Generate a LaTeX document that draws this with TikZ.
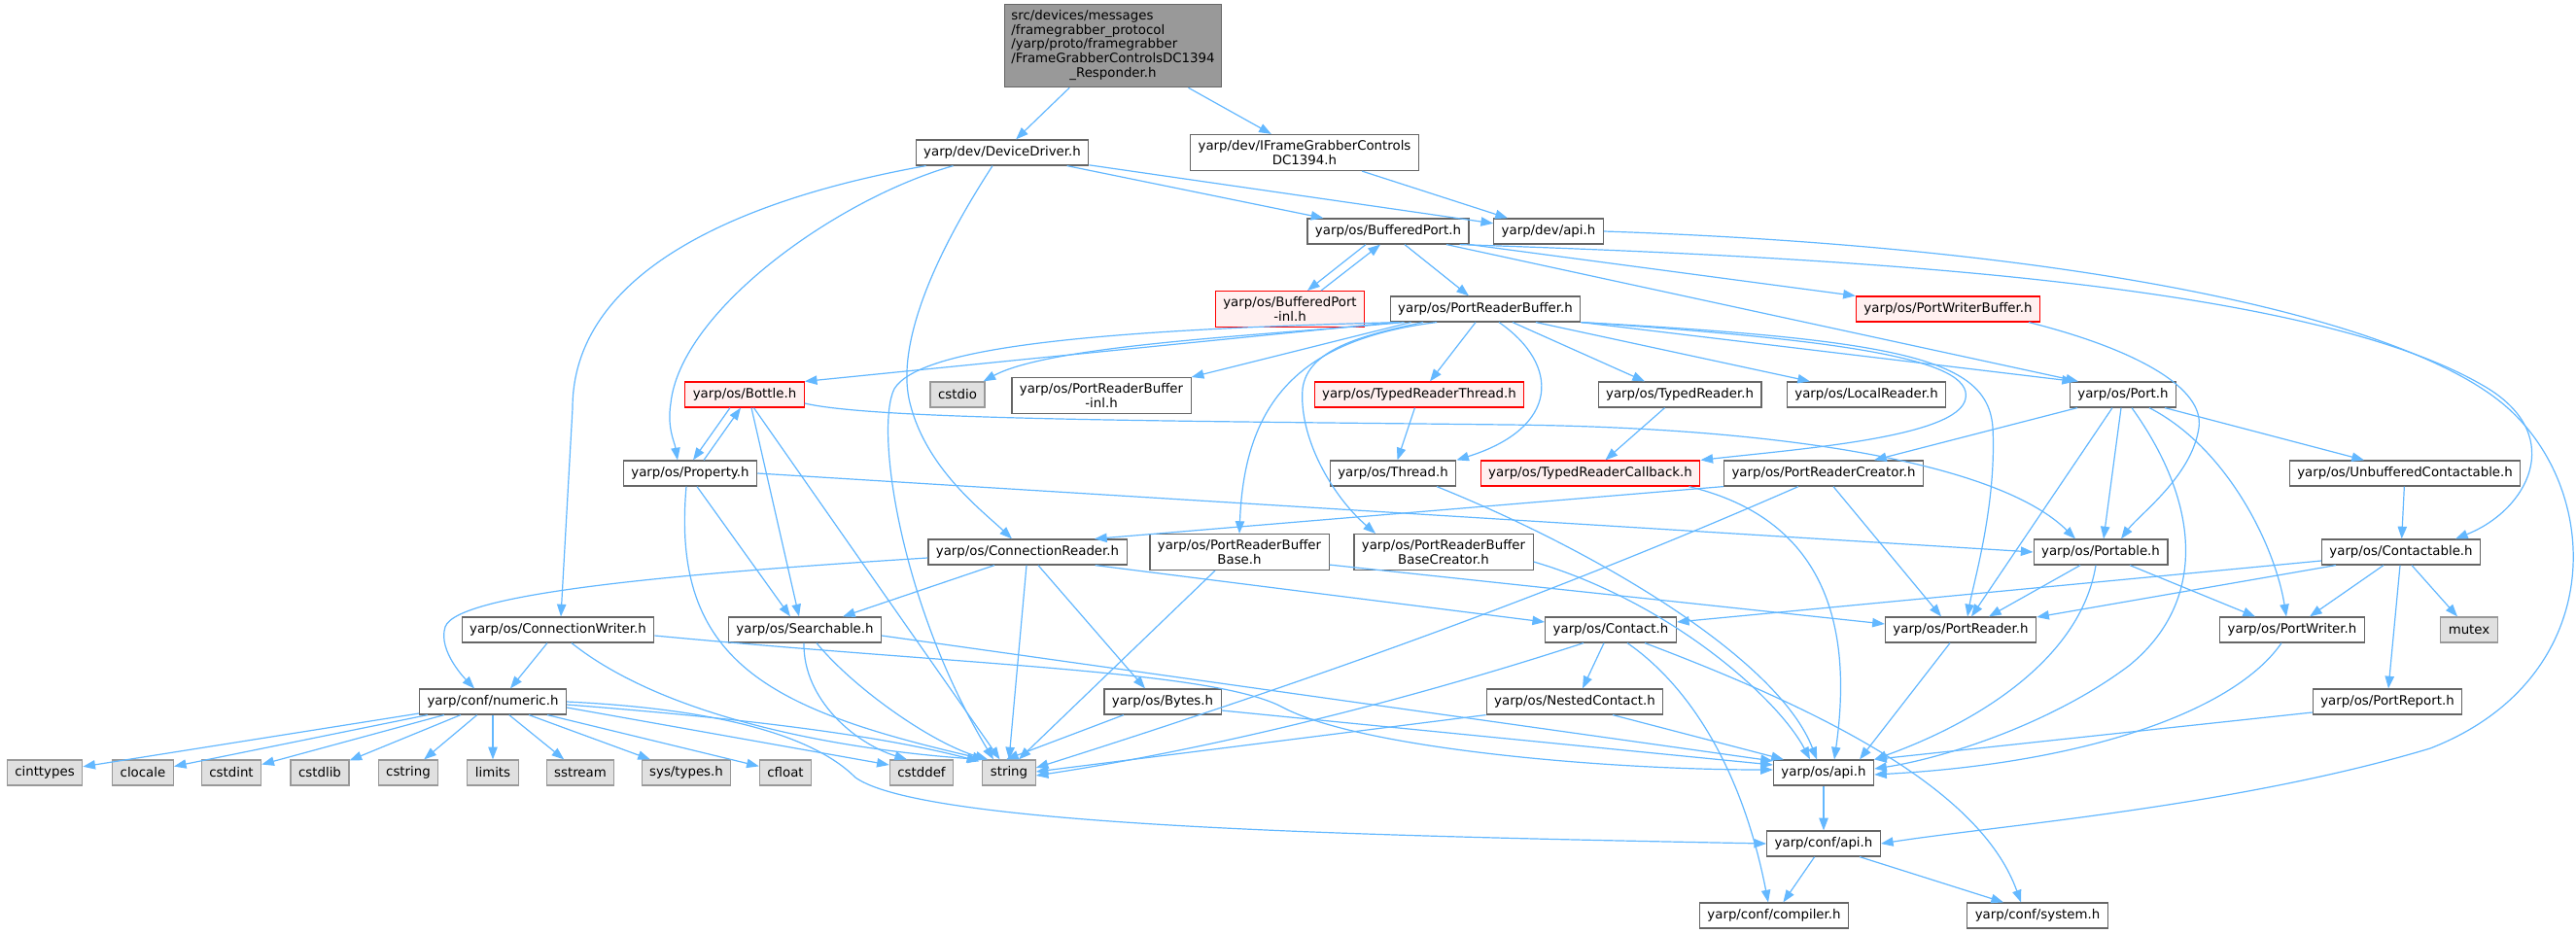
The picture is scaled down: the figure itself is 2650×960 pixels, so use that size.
\documentclass[tikz,border=0pt]{standalone}
\usepackage{fontspec}
\setmainfont{DejaVu Sans}
\usepackage{xcolor}
\usepackage{tikz}
\usetikzlibrary{arrows.meta}
\usetikzlibrary{calc}
\definecolor{edgecolor}{HTML}{63B8FF}
\definecolor{boxborder}{HTML}{666666}
\definecolor{sysfill}{HTML}{E0E0E0}
\definecolor{sysborder}{HTML}{999999}
\definecolor{redborder}{HTML}{FF0000}
\definecolor{redfill}{HTML}{FFF0F0}
\definecolor{mainfill}{HTML}{999999}

\begin{document}
\begin{tikzpicture}[x=0.75pt, y=-0.75pt,
  hdr/.style={draw=boxborder, fill=white, line width=0.9pt, inner xsep=6pt, inner ysep=4.5pt,
    minimum height=19.5pt, font=\fontsize{10pt}{11pt}\selectfont},
  redhdr/.style={hdr, draw=redborder, fill=redfill},
  syshdr/.style={hdr, draw=sysborder, fill=sysfill},
  mainhdr/.style={hdr, fill=mainfill, inner xsep=5pt},
  inc/.style={draw=edgecolor, line width=0.9pt, -{Triangle[length=9.5pt,width=7pt]}}]
\useasboundingbox (0,0) rectangle (2650,960);
\fill [white] (0,0) rectangle (2650,960);

%% headers
\node [mainhdr] (main) at (1145,47) {\begin{tabular}{@{}l@{}}src/devices/messages\\/framegrabber\_protocol\\/yarp/proto/framegrabber\\/FrameGrabberControlsDC1394\\\multicolumn{1}{@{}c@{}}{\_Responder.h}\end{tabular}};
\node [hdr] (DeviceDriver) at (1031,157) {yarp/dev/DeviceDriver.h};
\node [hdr, align=center] (IFGControls) at (1342,157) {yarp/dev/IFrameGrabberControls\\DC1394.h};
\node [hdr] (BufferedPort) at (1428,238) {yarp/os/BufferedPort.h};
\node [hdr] (devapi) at (1593,238) {yarp/dev/api.h};
\node [redhdr, align=center] (BufferedPortInl) at (1327,318) {yarp/os/BufferedPort\\-inl.h};
\node [hdr] (PortReaderBuffer) at (1528,318) {yarp/os/PortReaderBuffer.h};
\node [redhdr] (PortWriterBuffer) at (2004,318) {yarp/os/PortWriterBuffer.h};
\node [redhdr] (Bottle) at (766,406) {yarp/os/Bottle.h};
\node [syshdr] (cstdio) at (985,406) {cstdio};
\node [hdr, align=center] (PRBInl) at (1133,407) {yarp/os/PortReaderBuffer\\-inl.h};
\node [redhdr] (TypedReaderThread) at (1460,406) {yarp/os/TypedReaderThread.h};
\node [hdr] (TypedReader) at (1728,406) {yarp/os/TypedReader.h};
\node [hdr] (LocalReader) at (1920,406) {yarp/os/LocalReader.h};
\node [hdr] (Port) at (2184,406) {yarp/os/Port.h};
\node [hdr] (Property) at (710,487) {yarp/os/Property.h};
\node [hdr] (Thread) at (1433,487) {yarp/os/Thread.h};
\node [redhdr] (TypedReaderCallback) at (1636,487) {yarp/os/TypedReaderCallback.h};
\node [hdr] (PortReaderCreator) at (1876,487) {yarp/os/PortReaderCreator.h};
\node [hdr] (UnbufferedContactable) at (2474,487) {yarp/os/UnbufferedContactable.h};
\node [hdr] (ConnectionReader) at (1057,568) {yarp/os/ConnectionReader.h};
\node [hdr, align=center] (PRBBase) at (1275,568) {yarp/os/PortReaderBuffer\\Base.h};
\node [hdr, align=center] (PRBBaseCreator) at (1485,568) {yarp/os/PortReaderBuffer\\BaseCreator.h};
\node [hdr] (Portable) at (2161,568) {yarp/os/Portable.h};
\node [hdr] (Contactable) at (2470,568) {yarp/os/Contactable.h};
\node [hdr] (ConnectionWriter) at (574,648) {yarp/os/ConnectionWriter.h};
\node [hdr] (Searchable) at (828,648) {yarp/os/Searchable.h};
\node [hdr] (Contact) at (1657,648) {yarp/os/Contact.h};
\node [hdr] (PortReader) at (2017,648) {yarp/os/PortReader.h};
\node [hdr] (PortWriter) at (2358,648) {yarp/os/PortWriter.h};
\node [syshdr] (mutex) at (2540,648) {mutex};
\node [hdr] (numeric) at (507,722) {yarp/conf/numeric.h};
\node [hdr] (Bytes) at (1196,722) {yarp/os/Bytes.h};
\node [hdr] (NestedContact) at (1620,722) {yarp/os/NestedContact.h};
\node [hdr] (PortReport) at (2456,722) {yarp/os/PortReport.h};
\node [syshdr] (cinttypes) at (46,795) {cinttypes};
\node [syshdr] (clocale) at (147,795) {clocale};
\node [syshdr] (cstdint) at (238,795) {cstdint};
\node [syshdr] (cstdlib) at (329,795) {cstdlib};
\node [syshdr] (cstring) at (420,795) {cstring};
\node [syshdr] (limits) at (507,795) {limits};
\node [syshdr] (sstream) at (597,795) {sstream};
\node [syshdr] (systypes) at (706,795) {sys/types.h};
\node [syshdr] (cfloat) at (808,795) {cfloat};
\node [syshdr] (cstddef) at (948,795) {cstddef};
\node [syshdr] (string) at (1038,795) {string};
\node [hdr] (osapi) at (1876,795) {yarp/os/api.h};
\node [hdr] (confapi) at (1876,868) {yarp/conf/api.h};
\node [hdr] (compiler) at (1825,942) {yarp/conf/compiler.h};
\node [hdr] (system) at (2096,942) {yarp/conf/system.h};

%% top part
\draw [inc] (main) -- (DeviceDriver);
\draw [inc] (main) -- (IFGControls);
\draw [inc] (DeviceDriver) -- (BufferedPort);
\draw [inc] (DeviceDriver) -- (devapi);
\draw [inc] (IFGControls) -- (devapi);
\draw [inc] ($(DeviceDriver.south west)+(11,0)$) .. controls (760,205) and (589,280) .. (589,420) -- ($(ConnectionWriter.north)+(3,0)$);
\draw [inc] ($(DeviceDriver.south west)+(39,0)$) .. controls (860,205) and (700,320) .. (690,415) .. controls (686,440) and (694,455) .. ($(Property.north)+(-13,0)$);
\draw [inc] ($(DeviceDriver.south)+(-10,0)$) .. controls (950,280) and (925,360) .. (935,410) .. controls (950,480) and (1010,525) .. ($(ConnectionReader.north)+(-16,0)$);
\draw [inc] (devapi.east) .. controls (2150,255) and (2480,330) .. (2580,420) .. controls (2680,510) and (2680,700) .. (2500,770) .. controls (2300,830) and (2050,850) .. (confapi.east);

%% BufferedPort
\draw [inc] ($(BufferedPort.south)+(-23,0)$) -- ($(BufferedPortInl.north)+(18,0)$);
\draw [inc] ($(BufferedPortInl.north)+(32,0)$) -- ($(BufferedPort.south)+(-8,0)$);
\draw [inc] (BufferedPort) -- (PortReaderBuffer);
\draw [inc] (BufferedPort.south east) -- (PortWriterBuffer.north west);
\draw [inc] ($(BufferedPort.south)+(60,0)$) -- ($(Port.north)+(-46,0)$);
\draw [inc] ($(BufferedPort.south east)+(-10,0)$) .. controls (1900,265) and (2380,290) .. (2560,400) .. controls (2640,450) and (2600,525) .. ($(Contactable.north)+(56,0)$);
\draw [inc] ($(PortWriterBuffer.south)+(83,0)$) .. controls (2200,360) and (2268,400) .. (2262,440) .. controls (2255,490) and (2200,530) .. ($(Portable.north)+(21,0)$);

%% PortReaderBuffer
\draw [inc] ($(PortReaderBuffer.south west)+(5,0)$) -- (Bottle.north east);
\draw [inc] ($(PortReaderBuffer.south west)+(15,0)$) .. controls (1300,345) and (1080,355) .. ($(cstdio.north east)+(-2,0)$);
\draw [inc] ($(PortReaderBuffer.south west)+(22,0)$) -- (PRBInl.north east);
\draw [inc] ($(PortReaderBuffer.south west)+(10,0)$) .. controls (1100,340) and (945,360) .. (920,400) .. controls (900,440) and (925,620) .. ($(string.north)+(-16,0)$);
\draw [inc] ($(PortReaderBuffer.south)+(-10,0)$) -- ($(TypedReaderThread.north)+(11,0)$);
\draw [inc] ($(PortReaderBuffer.south)+(14,0)$) .. controls (1605,375) and (1605,440) .. (Thread.north east);
\draw [inc] ($(PortReaderBuffer.south)+(28,0)$) -- ($(TypedReader.north)+(-36,0)$);
\draw [inc] ($(PortReaderBuffer.south)+(52,0)$) -- ($(LocalReader.north)+(-58,0)$);
\draw [inc] (PortReaderBuffer.south east) -- ($(Port.north)+(-50,0)$);
\draw [inc] (PortReaderBuffer.south east) .. controls (1900,350) and (2030,370) .. (2022,410) .. controls (2015,450) and (1850,462) .. (TypedReaderCallback.north east);
\draw [inc] (PortReaderBuffer.south east) .. controls (1960,350) and (2045,370) .. (2050,440) .. controls (2054,520) and (2030,600) .. ($(PortReader.north)+(7,0)$);
\draw [inc] ($(PortReaderBuffer.south)+(-50,0)$) .. controls (1330,350) and (1280,420) .. (PRBBase.north);
\draw [inc] ($(PortReaderBuffer.south)+(-64,0)$) .. controls (1400,345) and (1345,360) .. (1340,400) .. controls (1336,450) and (1370,510) .. ($(PRBBaseCreator.north)+(-70,0)$);

%% Bottle, Property
\draw [inc] ($(Bottle.south)+(-15,0)$) -- ($(Property.north)+(3,0)$);
\draw [inc] ($(Property.north)+(14,0)$) -- ($(Bottle.south)+(-4,0)$);
\draw [inc] ($(Bottle.south)+(7,0)$) -- ($(Searchable.north)+(-6,0)$);
\draw [inc] (Bottle) -- (string);
\draw [inc] ($(Bottle.east)+(0,9)$) .. controls (900,432) and (1200,433) .. (1550,437) .. controls (1850,440) and (2060,480) .. ($(Portable.north)+(-26,0)$);
\draw [inc] ($(Property.south)+(7,0)$) -- ($(Searchable.north)+(-15,0)$);
\draw [inc] ($(Property.south)+(-4,0)$) .. controls (690,680) and (790,730) .. ($(string.north west)+(3,0)$);
\draw [inc] (Property.east) -- (Portable.west);

%% readers, threads
\draw [inc] (TypedReaderThread) -- (Thread);
\draw [inc] (TypedReader) -- (TypedReaderCallback);
\draw [inc] ($(Thread.south)+(45,0)$) .. controls (1650,570) and (1830,680) .. ($(osapi.north)+(-7,0)$);
\draw [inc] ($(TypedReaderCallback.south east)+(-12,0)$) .. controls (1860,530) and (1910,620) .. ($(osapi.north)+(11,0)$);
\draw [inc] (PortReaderCreator.south west) -- ($(ConnectionReader.north)+(69,0)$);
\draw [inc] ($(PortReaderCreator.south)+(-26,0)$) .. controls (1600,610) and (1350,700) .. ($(string.east)+(0,-5)$);
\draw [inc] ($(PortReaderCreator.south)+(10,0)$) -- ($(PortReader.north)+(-20,0)$);
\draw [inc] (UnbufferedContactable) -- (Contactable);

%% ConnectionReader, PortReaderBuffer bases
\draw [inc] ($(ConnectionReader.west)+(0,6)$) .. controls (700,590) and (470,610) .. (458,645) .. controls (450,670) and (480,700) .. ($(numeric.north)+(-19,0)$);
\draw [inc] ($(ConnectionReader.south)+(-34,0)$) -- ($(Searchable.north)+(39,0)$);
\draw [inc] ($(ConnectionReader.south)+(-1,0)$) -- (string.north);
\draw [inc] ($(ConnectionReader.south)+(11,0)$) -- ($(Bytes.north)+(-18,0)$);
\draw [inc] ($(ConnectionReader.south east)+(-33,0)$) -- ($(Contact.west)+(0,-8)$);
\draw [inc] ($(PRBBase.south)+(-25,0)$) -- ($(string.north)+(10,0)$);
\draw [inc] ($(PRBBase.south east)+(0,-6)$) -- ($(PortReader.west)+(0,-6)$);
\draw [inc] ($(PRBBaseCreator.east)+(0,10)$) .. controls (1720,620) and (1830,720) .. ($(osapi.north)+(-14,0)$);

%% Port, Portable, Contactable
\draw [inc] ($(Portable.south)+(-21,0)$) -- ($(PortReader.north)+(29,0)$);
\draw [inc] ($(Portable.south)+(30,0)$) -- ($(PortWriter.north)+(-38,0)$);
\draw [inc] ($(Portable.south)+(-5,0)$) .. controls (2140,680) and (2030,745) .. (osapi.north east);
\draw [inc] ($(Port.south)+(-47,0)$) -- ($(PortReaderCreator.north)+(52,0)$);
\draw [inc] ($(Port.south)+(-11,0)$) -- ($(PortReader.north)+(11,0)$);
\draw [inc] ($(Port.south)+(-2,0)$) -- ($(Portable.north)+(3,0)$);
\draw [inc] ($(Port.south)+(9,0)$) .. controls (2265,520) and (2270,620) .. (2190,685) .. controls (2110,745) and (2000,780) .. ($(osapi.east)+(0,-4)$);
\draw [inc] ($(Port.south)+(27,0)$) .. controls (2290,460) and (2340,560) .. ($(PortWriter.north)+(-6,0)$);
\draw [inc] ($(Port.south)+(43,0)$) -- ($(UnbufferedContactable.north)+(-42,0)$);
\draw [inc] ($(Contactable.west)+(0,9)$) -- ($(Contact.east)+(0,-8)$);
\draw [inc] ($(Contactable.south west)+(15,0)$) -- ($(PortReader.east)+(0,-13)$);
\draw [inc] ($(Contactable.south)+(-18,0)$) -- ($(PortWriter.north)+(18,0)$);
\draw [inc] ($(Contactable.south)+(11,0)$) -- ($(mutex.north)+(-12,0)$);
\draw [inc] ($(Contactable.south)+(-1,0)$) -- ($(PortReport.north)+(1,0)$);
\draw [inc] ($(PortReader.south)+(-11,0)$) -- ($(osapi.north)+(37,0)$);
\draw [inc] ($(PortWriter.south)+(-11,0)$) .. controls (2300,730) and (2150,785) .. ($(osapi.east)+(0,2)$);
\draw [inc] ($(PortReport.west)+(0,11)$) -- (osapi.north east);

%% Contact
\draw [inc] ($(Contact.south)+(-7,0)$) -- ($(NestedContact.north)+(8,0)$);
\draw [inc] ($(Contact.south)+(-28,0)$) .. controls (1450,720) and (1250,770) .. ($(string.east)+(0,3)$);
\draw [inc] ($(Contact.south)+(17,0)$) .. controls (1730,700) and (1790,780) .. ($(compiler.north)+(-6,0)$);
\draw [inc] ($(Contact.south)+(35,0)$) .. controls (1900,740) and (2040,820) .. ($(system.north)+(-17,0)$);
\draw [inc] (NestedContact.south west) -- ($(string.east)+(0,-1)$);
\draw [inc] ($(NestedContact.south)+(39,0)$) -- ($(osapi.north west)+(11,0)$);
\draw [inc] ($(Bytes.south)+(-40,0)$) -- ($(string.north)+(-3,0)$);
\draw [inc] ($(Bytes.east)+(0,9)$) -- ($(osapi.west)+(0,-8)$);

%% Searchable, ConnectionWriter
\draw [inc] ($(Searchable.south)+(-1,0)$) .. controls (826,720) and (880,765) .. ($(cstddef.north)+(-15,0)$);
\draw [inc] ($(Searchable.south)+(12,0)$) .. controls (880,710) and (960,765) .. ($(string.north west)+(6,0)$);
\draw [inc] ($(Searchable.east)+(0,6)$) -- ($(osapi.west)+(0,-12)$);
\draw [inc] ($(ConnectionWriter.south)+(-11,0)$) -- ($(numeric.north)+(18,0)$);
\draw [inc] ($(ConnectionWriter.south)+(14,0)$) .. controls (680,735) and (850,770) .. ($(string.north west)+(-2,0)$);
\draw [inc] ($(ConnectionWriter.east)+(0,6)$) .. controls (1000,685) and (1250,690) .. (1320,728) .. controls (1400,770) and (1650,792) .. ($(osapi.west)+(0,-3)$);

%% numeric
\draw [inc] (numeric) -- (cinttypes);
\draw [inc] (numeric) -- (clocale);
\draw [inc] (numeric) -- (cstdint);
\draw [inc] (numeric) -- (cstdlib);
\draw [inc] (numeric) -- (cstring);
\draw [inc] (numeric) -- (limits);
\draw [inc] (numeric) -- (sstream);
\draw [inc] (numeric) -- (systypes);
\draw [inc] (numeric) -- (cfloat);
\draw [inc] ($(numeric.east)+(0,6)$) -- ($(cstddef.west)+(0,-8)$);
\draw [inc] ($(numeric.east)+(0,3)$) .. controls (750,738) and (900,755) .. ($(string.north west)+(-3,2)$);
\draw [inc] (numeric.east) .. controls (750,730) and (840,760) .. (880,800) .. controls (950,850) and (1400,860) .. (confapi.west);

%% conf
\draw [inc] (osapi) -- (confapi);
\draw [inc] (confapi) -- (compiler);
\draw [inc] ($(confapi.south)+(37,0)$) -- ($(system.north)+(-35,0)$);

\end{tikzpicture}
\end{document}
